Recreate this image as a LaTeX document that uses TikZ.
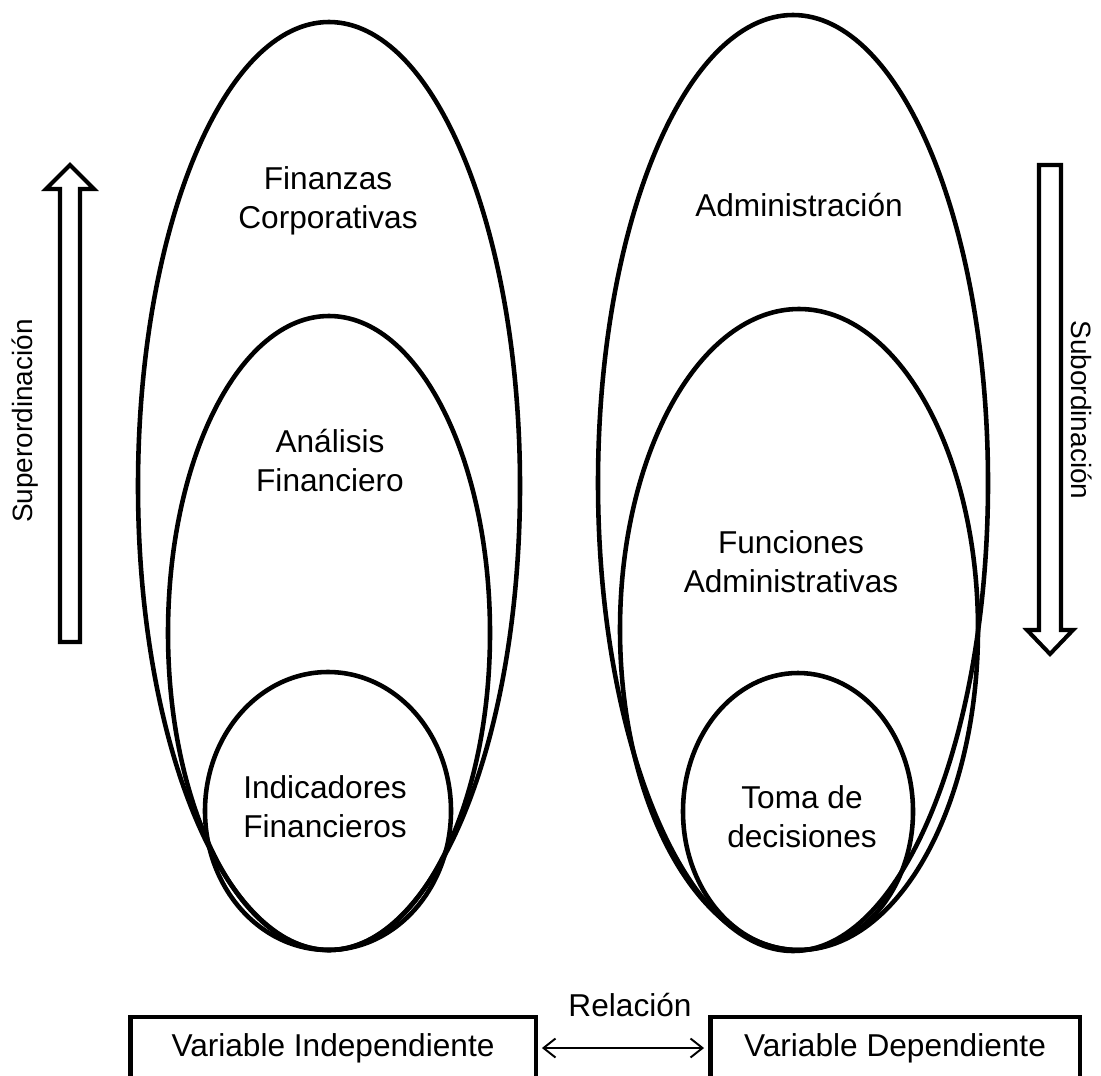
\documentclass[tikz,border=0pt]{standalone}
\usepackage{fontspec}
\setmainfont{Liberation Sans}
\usetikzlibrary{arrows.meta}
\begin{document}
\begin{tikzpicture}[x=0.02cm,y=-0.02cm,
  ring/.style={draw=black,line width=2.6pt},
  lbl/.style={align=center,inner sep=0pt,font=\fontsize{18}{22.2}\selectfont},
  side/.style={inner sep=0pt,font=\fontsize{15.9}{19}\selectfont},
  blockarrow/.style={draw=black,line width=2.3pt,fill=white,line join=miter},
  varbox/.style={draw=black,line width=2.8pt,inner sep=0pt,minimum height=1.24cm,
    font=\fontsize{18}{22}\selectfont},
  link/.style={line width=1.1pt,{Straight Barb[length=0.24cm,width=0.38cm]}-{Straight Barb[length=0.24cm,width=0.38cm]}}]
\useasboundingbox (0,0) rectangle (1101,1075);
\clip (0,0) rectangle (1101,1075);

% nested sets, independent variable
\draw[ring] (329,486) ellipse [x radius=191, y radius=464];
\draw[ring] (329,633) ellipse [x radius=161, y radius=317];
\draw[ring] (328,811) ellipse [x radius=123, y radius=139];

% nested sets, dependent variable
\draw[ring] (793,483) ellipse [x radius=195, y radius=468];
\draw[ring] (799,629.5) ellipse [x radius=179, y radius=320.5];
\draw[ring] (798,811.5) ellipse [x radius=115, y radius=138.5];

% set labels
\node[lbl] (fc) at (328,201) {Finanzas\\Corporativas};
\node[lbl] (adm) at (799,205) {Administración};
\node[lbl] (af) at (330,461) {Análisis\\Financiero};
\node[lbl] (fa) at (791,562) {Funciones\\Administrativas};
\node[lbl] (ifin) at (325,807) {Indicadores\\Financieros};
\node[lbl] (td) at (802,817) {Toma de\\decisiones};

% hierarchy arrows
\draw[blockarrow] (70,165) -- (94,189) -- (80,189) -- (80,642) -- (60,642)
  -- (60,189) -- (46,189) -- cycle;
\draw[blockarrow] (1039,165) -- (1061,165) -- (1061,630) -- (1073,630)
  -- (1050,654) -- (1027,630) -- (1039,630) -- cycle;
\node[side,rotate=90] (sup) at (25,421) {Superordinación};
\node[side,rotate=-90] (sub) at (1082,410) {Subordinación};

% variables
\node[varbox,minimum width=8.12cm] (vi) at (333,1048) {Variable Independiente};
\node[varbox,minimum width=7.4cm] (vd) at (895,1048) {Variable Dependiente};
\draw[link,shorten <=2pt,shorten >=2pt] (vi.east) -- (vd.west);
\node[lbl] (rel) at (630,1005) {Relación};
\end{tikzpicture}
\end{document}
